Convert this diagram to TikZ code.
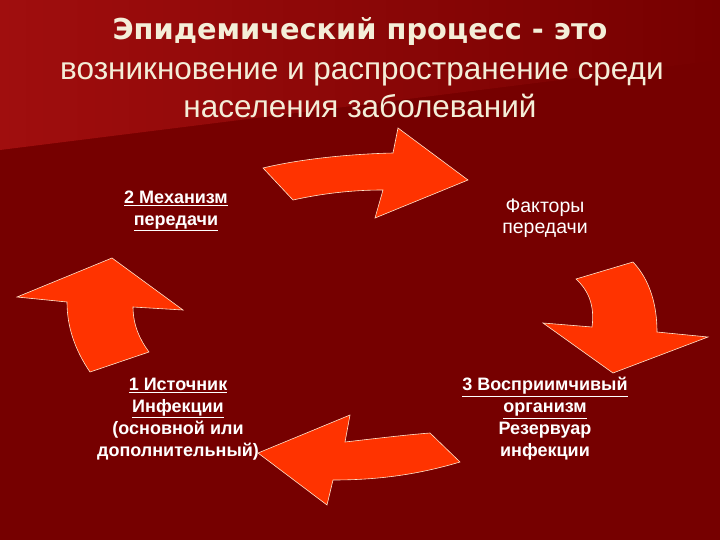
\documentclass[tikz,border=0pt]{standalone}
\usepackage{fontspec}
\setmainfont{Liberation Sans}
\newfontfamily\titlefont{DejaVu Sans}
\definecolor{bgdark}{HTML}{760000}
\definecolor{bgtop}{HTML}{A00E0E}
\definecolor{arrowred}{HTML}{FF3300}
\definecolor{cream}{HTML}{F4EED8}
\begin{document}
\begin{tikzpicture}[x=1pt,y=-1pt,
    blockarrow/.style={fill=arrowred, draw=white!80!orange, line width=0.6pt},
    lbl/.style={text=white, align=center, font=\fontsize{18}{22}\selectfont\bfseries}]
        % background
        \fill[bgdark] (0,0) rectangle (720,540);
        \shade[left color=bgtop, right color=bgdark] (0,0) -- (720,0) -- (720,60) -- (0,150) -- cycle;
        % title
        \node[text=cream, font=\titlefont\fontsize{28.8}{32}\selectfont\bfseries, anchor=base] (title) at (360,40) {Эпидемический процесс - это};
        \node[text=cream, font=\fontsize{31.5}{38}\selectfont, anchor=base] (defa) at (362,80) {возникновение и распространение среди};
        \node[text=cream, font=\fontsize{31.5}{38}\selectfont, anchor=base] (defb) at (360,118) {населения заболеваний};
        % arrows
        \draw[blockarrow] (263,168) .. controls (300,159) and (350,154) .. (393,153) -- (398,128) -- (468,180) -- (375,218)
            -- (383,190) .. controls (350,190) and (320,194) .. (293,200) -- cycle;
        \draw[blockarrow] (576,279) -- (633,262) .. controls (650,280) and (657,305) .. (657,332) -- (708,337) -- (613,373)
            -- (543,323) -- (592,327) .. controls (595,305) and (588,290) .. cycle;
        \draw[blockarrow] (460,462) .. controls (420,474) and (380,480) .. (333,480) -- (327,505) -- (258,453) -- (350,415)
            -- (345,442) .. controls (380,438) and (405,435) .. (430,433) -- cycle;
        \draw[blockarrow] (90,372) .. controls (75,350) and (67,327) .. (67,302) -- (17,297) -- (112,258) -- (183,310)
            -- (133,307) .. controls (133,325) and (140,340) .. (149,352) -- cycle;
        % labels
        \node[lbl] (mech) at (176,211) {\underline{2 Механизм}\\\underline{передачи}};
        \node[lbl, font=\fontsize{19.5}{21}\selectfont] (fact) at (545,218) {Факторы\\передачи};
        \node[lbl] (src) at (178,419) {\underline{1 Источник}\\\underline{Инфекции}\\(основной или\\дополнительный)};
        \node[lbl] (host) at (545,419) {\underline{3 Восприимчивый}\\\underline{организм}\\Резервуар\\инфекции};
\end{tikzpicture}
\end{document}
